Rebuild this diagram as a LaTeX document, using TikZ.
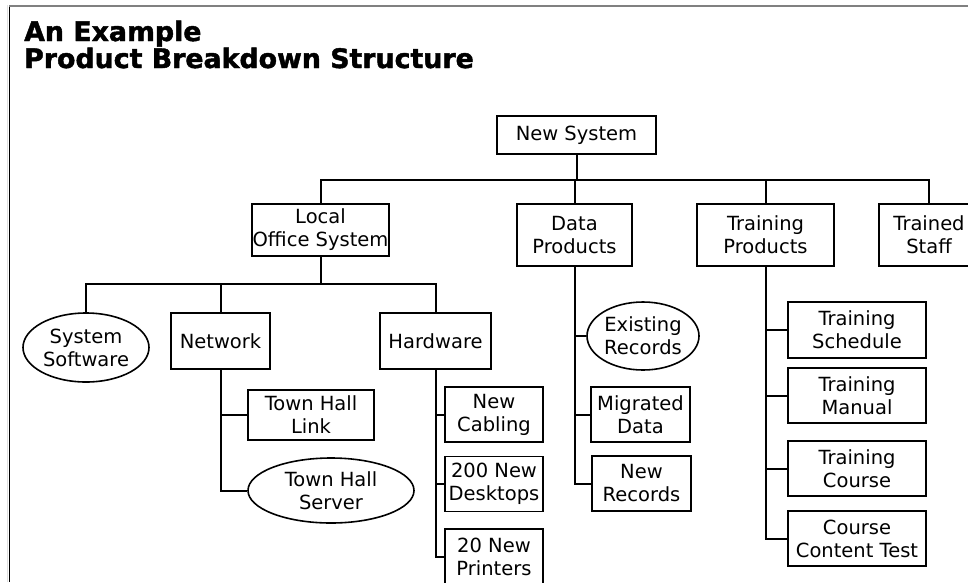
\documentclass[tikz,border=0pt]{standalone}
\usepackage{fontspec}
\setmainfont{DejaVu Sans}
\newfontfamily\titlefont{DejaVu Sans Bold}[FakeBold=1.6]
\usetikzlibrary{shapes.geometric}
\begin{document}
\begin{tikzpicture}[x=1pt,y=-1pt,
  every node/.style={font=\fontsize{19.5}{23}\selectfont, align=center, inner sep=0pt},
  box/.style={draw, line width=1.6pt, rectangle},
  oval/.style={draw, line width=1.6pt, ellipse},
  link/.style={line width=2pt},
  titletext/.style={font=\fontsize{26.8}{29}\titlefont, anchor=base west, align=left},
]
\useasboundingbox (0,0) rectangle (968,582);
\fill[white] (0,0) rectangle (968,582);
\begin{scope}
\clip (0,0) rectangle (968,582);

% frame
\draw[gray!25, line width=1pt] (7.8,5) -- (7.8,582);
\draw[black, line width=1.5pt] (9.5,5) -- (9.5,582);
\draw[gray, line width=2pt] (9,5.5) -- (968,5.5);

% title
\node[titletext] (t1) at (24,41) {An Example};
\node[titletext] (t2) at (24,68) {Product Breakdown Structure};

% level 0 and 1
\node[box, minimum width=159, minimum height=38] (ns) at (576.5,135) {New System};
\node[box, minimum width=137, minimum height=52] (los) at (320.5,230) {Local\\Office System};
\node[box, minimum width=115, minimum height=62] (dp) at (574.5,235) {Data\\Products};
\node[box, minimum width=137, minimum height=62] (tp) at (765.5,235) {Training\\Products};
\node[box, minimum width=100, minimum height=62] (tst) at (929,235) {Trained\\Staff};

% local office system branch
\node[oval, minimum width=126, minimum height=69] (ss) at (86,347.5) {System\\Software};
\node[box, minimum width=99, minimum height=56] (nw) at (220.5,341) {Network};
\node[box, minimum width=111, minimum height=56] (hw) at (435.5,341) {Hardware};
\node[box, minimum width=126, minimum height=50] (thl) at (311,415) {Town Hall\\Link};
\node[oval, minimum width=166, minimum height=65] (ths) at (331,490.5) {Town Hall\\Server};
\node[box, minimum width=98, minimum height=55] (nc) at (494,414.5) {New\\Cabling};
\node[box, minimum width=98, minimum height=55] (nd) at (494,484) {200 New\\Desktops};
\node[box, minimum width=98, minimum height=55] (np) at (494,556.5) {20 New\\Printers};

% data products branch
\node[oval, minimum width=112, minimum height=68] (er) at (643,336) {Existing\\Records};
\node[box, minimum width=99, minimum height=55] (md) at (640.5,414.5) {Migrated\\Data};
\node[box, minimum width=99, minimum height=55] (nr) at (641.5,483.5) {New\\Records};

% training products branch
\node[box, minimum width=138, minimum height=56] (tsc) at (857,330) {Training\\Schedule};
\node[box, minimum width=138, minimum height=55] (tm) at (857,395.5) {Training\\Manual};
\node[box, minimum width=138, minimum height=55] (tc) at (857,468.5) {Training\\Course};
\node[box, minimum width=138, minimum height=55] (cct) at (857,538.5) {Course\\Content Test};

% top bus
\coordinate (b1) at (576.5,179.5);
\draw[link] (ns) -- (b1);
\draw[link] (los.north) |- (b1) -| (tst.north);
\draw[link] (dp.north) -- (dp.north |- b1);
\draw[link] (tp.north) -- (tp.north |- b1);

% local office system bus
\coordinate (b2) at (320.5,283.5);
\draw[link] (los) -- (b2);
\draw[link] (ss.north) |- (b2) -| (hw.north);
\draw[link] (nw.north) -- (nw.north |- b2);

% network stem
\draw[link] (nw.south) |- (ths.west);
\draw[link] (nw.south |- thl.west) -- (thl.west);

% hardware stem
\draw[link] (hw.south) |- (np.west);
\draw[link] (hw.south |- nc.west) -- (nc.west);
\draw[link] (hw.south |- nd.west) -- (nd.west);

% data products stem
\draw[link] (dp.south) |- (nr.west);
\draw[link] (dp.south |- er.west) -- (er.west);
\draw[link] (dp.south |- md.west) -- (md.west);

% training products stem
\draw[link] (tp.south) |- (cct.west);
\draw[link] (tp.south |- tsc.west) -- (tsc.west);
\draw[link] (tp.south |- tm.west) -- (tm.west);
\draw[link] (tp.south |- tc.west) -- (tc.west);
\end{scope}
\end{tikzpicture}
\end{document}
